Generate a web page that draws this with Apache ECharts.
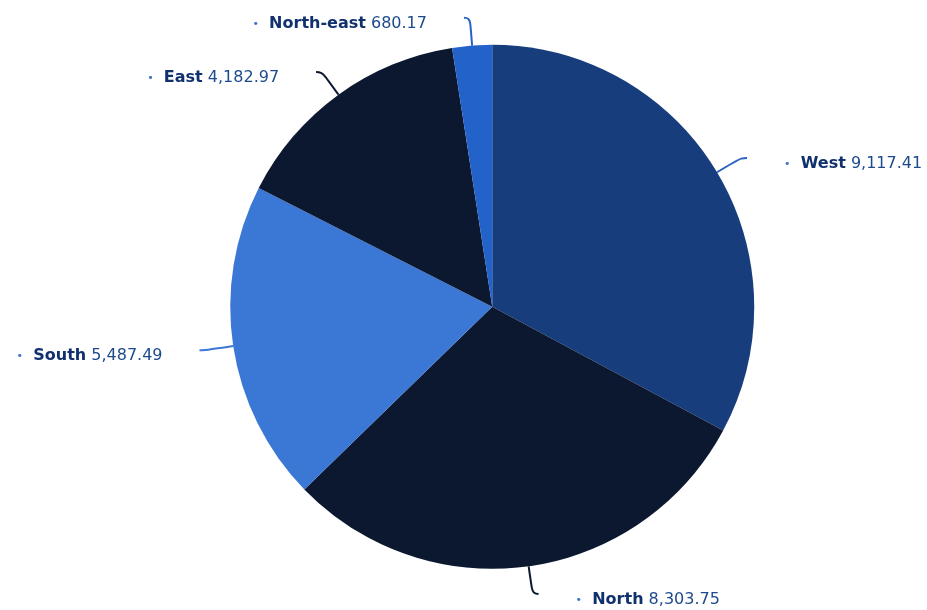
<!DOCTYPE html>
<html>
<head>
<meta charset="utf-8">
<script src="https://cdn.jsdelivr.net/npm/echarts@6/dist/echarts.min.js"></script>
<style>
  html, body { margin: 0; padding: 0; background: #fff; }
  #chart { width: 927px; height: 610px; }
</style>
</head>
<body>
<div id="chart"></div>
<script>
const regions = ["West", "North", "South", "East", "North-east"];
const totals = [9117.41, 8303.75, 5487.49, 4182.97, 680.17];
const sliceColors = ["#183d7c", "#0b1830", "#3b77d5", "#0b1830", "#2262c9"];

const fmt = (v) => v.toLocaleString("en-US", { minimumFractionDigits: 2, maximumFractionDigits: 2 });

const chart = echarts.init(document.getElementById("chart"));

chart.setOption({
  backgroundColor: "#fff",
  animation: false,
  series: [
    {
      type: "pie",
      center: ["53.1%", "50.3%"],
      radius: 262,
      startAngle: 90,
      clockwise: true,
      itemStyle: { borderWidth: 0 },
      label: {
        fontFamily: "DejaVu Sans",
        fontSize: 16,
        overflow: "none",
        edgeDistance: 0,
        padding: [12, 0, 0, 0],
        formatter: (p) => "{dot|•}  {n|" + p.name + "} {v|" + fmt(p.value) + "}",
        distanceToLabelLine: 37,
        rich: {
          dot: { color: "#3a70c8", fontSize: 11, fontFamily: "DejaVu Sans" },
          n: { color: "#10306e", fontSize: 16, fontWeight: "bold", fontFamily: "DejaVu Sans" },
          v: { color: "#1d4a8c", fontSize: 16, fontFamily: "DejaVu Sans" }
        }
      },
      labelLine: {
        show: true,
        length: 28,
        length2: 6,
        smooth: 0.5,
        lineStyle: { width: 2 }
      },
      data: regions.map((r, i) => ({
        name: r,
        value: totals[i],
        itemStyle: { color: sliceColors[i] },
        labelLine: { lineStyle: { color: i === 0 ? "#2a62c4" : sliceColors[i] } }
      }))
    }
  ]
});
</script>
</body>
</html>
